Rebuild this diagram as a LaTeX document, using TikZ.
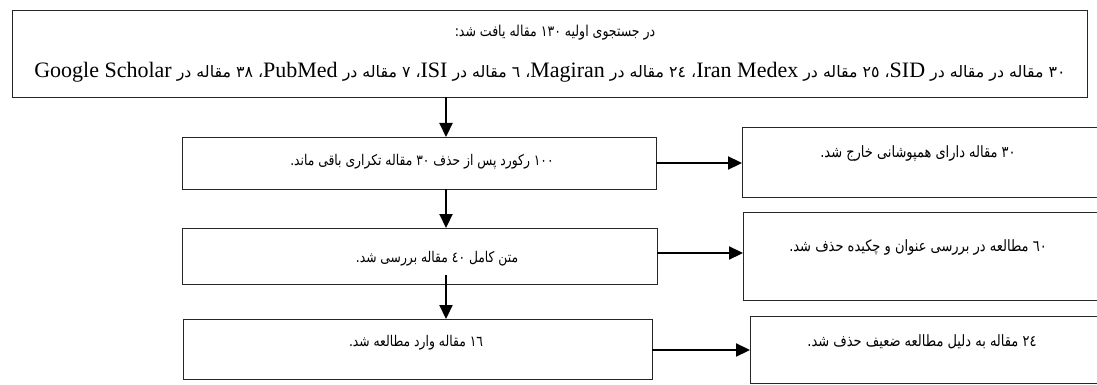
\documentclass[tikz,border=0pt]{standalone}
\usepackage{graphicx}
\usepackage{fontspec}
\setmainfont{Liberation Serif}
\newfontfamily\arfont[Script=Arabic]{DejaVu Sans}
\TeXXeTstate=1
\usetikzlibrary{arrows.meta}
\newcommand{\RTLtext}[1]{\arfont\beginR #1\endR}
\newcommand{\RTLtall}[1]{\scalebox{1}[1.2]{\arfont\beginR #1\endR}}
\newcommand{\LTRword}[1]{\beginL{\rmfamily\fontsize{22}{24}\selectfont #1}\endL}
\tikzset{
  box/.style={draw=black!85, line width=0.8pt, fill=white, inner sep=0pt, outer sep=0pt},
  arr/.style={line width=2.2pt, -{Triangle[length=14pt,width=13pt]}},
  txt/.style={inner sep=0pt, font=\fontsize{12.3}{14}\selectfont},
  txtr/.style={inner sep=0pt, font=\fontsize{13}{15}\selectfont},
  txtbig/.style={inner sep=0pt, font=\fontsize{12.5}{15}\selectfont},
  txtline/.style={inner sep=0pt, font=\fontsize{15.8}{18}\selectfont},
}
\begin{document}
\begin{tikzpicture}[x=1pt,y=-1pt]
\clip (0,0) rectangle (1097,385);
\fill[white] (0,0) rectangle (1097,385);
% boxes
\node[box, minimum width=1075pt, minimum height=87pt] (top) at (549.5,53.5) {};
\node[box, minimum width=474pt, minimum height=52pt] (b1) at (419,163) {};
\node[box, minimum width=475pt, minimum height=56pt] (b2) at (419.5,256) {};
\node[box, minimum width=469pt, minimum height=60pt] (b3) at (417.5,349) {};
\node[box, minimum width=363pt, minimum height=70pt] (r1) at (923.5,162) {};
\node[box, minimum width=362pt, minimum height=88pt] (r2) at (924,256) {};
\node[box, minimum width=355pt, minimum height=67pt] (r3) at (927.5,349.5) {};
% texts
\node[txtbig] (t1) at (555,33) {\RTLtall{در جستجوی اولیه ۱۳۰ مقاله یافت شد:}};
\node[txtline] (t2) at (550,72) {\RTLtext{۳۰ مقاله در مقاله در \LTRword{SID}، ۲٥ مقاله در \LTRword{Iran Medex}، ٢٤ مقاله در \LTRword{Magiran}، ٦ مقاله در \LTRword{ISI}، ۷ مقاله در \LTRword{PubMed}، ۳۸ مقاله در \LTRword{Google Scholar}}};
\node[txt] (tb1) at (422,162) {\RTLtall{۱۰۰ رکورد پس از حذف ۳۰ مقاله تکراری باقی ماند.}};
\node[txt] (tb2) at (437,259) {\RTLtall{متن کامل ٤۰ مقاله بررسی شد.}};
\node[txt] (tb3) at (416,343) {\RTLtall{۱٦ مقاله وارد مطالعه شد.}};
\node[txtr] (tr1) at (918,153) {\RTLtall{۳۰ مقاله دارای همپوشانی خارج شد.}};
\node[txtr] (tr2) at (918,247) {\RTLtall{٦۰ مطالعه در بررسی عنوان و چکیده حذف شد.}};
\node[txtr] (tr3) at (922,342) {\RTLtall{٢٤ مقاله به دلیل مطالعه ضعیف حذف شد.}};
% arrows
\coordinate (vx) at (446,0);
\coordinate (s3) at (446,275);
\draw[arr] (top.south -| vx) -- (b1.north -| vx);
\draw[arr] (b1.south -| vx) -- (b2.north -| vx);
\draw[arr] (s3) -- (b3.north -| s3);
\draw[arr] (b1.east) -- (b1.east -| r1.west);
\draw[arr] (b2.east |- 0,253) -- (r2.west |- 0,253);
\draw[arr] (b3.east |- 0,350) -- (r3.west |- 0,350);
\end{tikzpicture}
\end{document}
